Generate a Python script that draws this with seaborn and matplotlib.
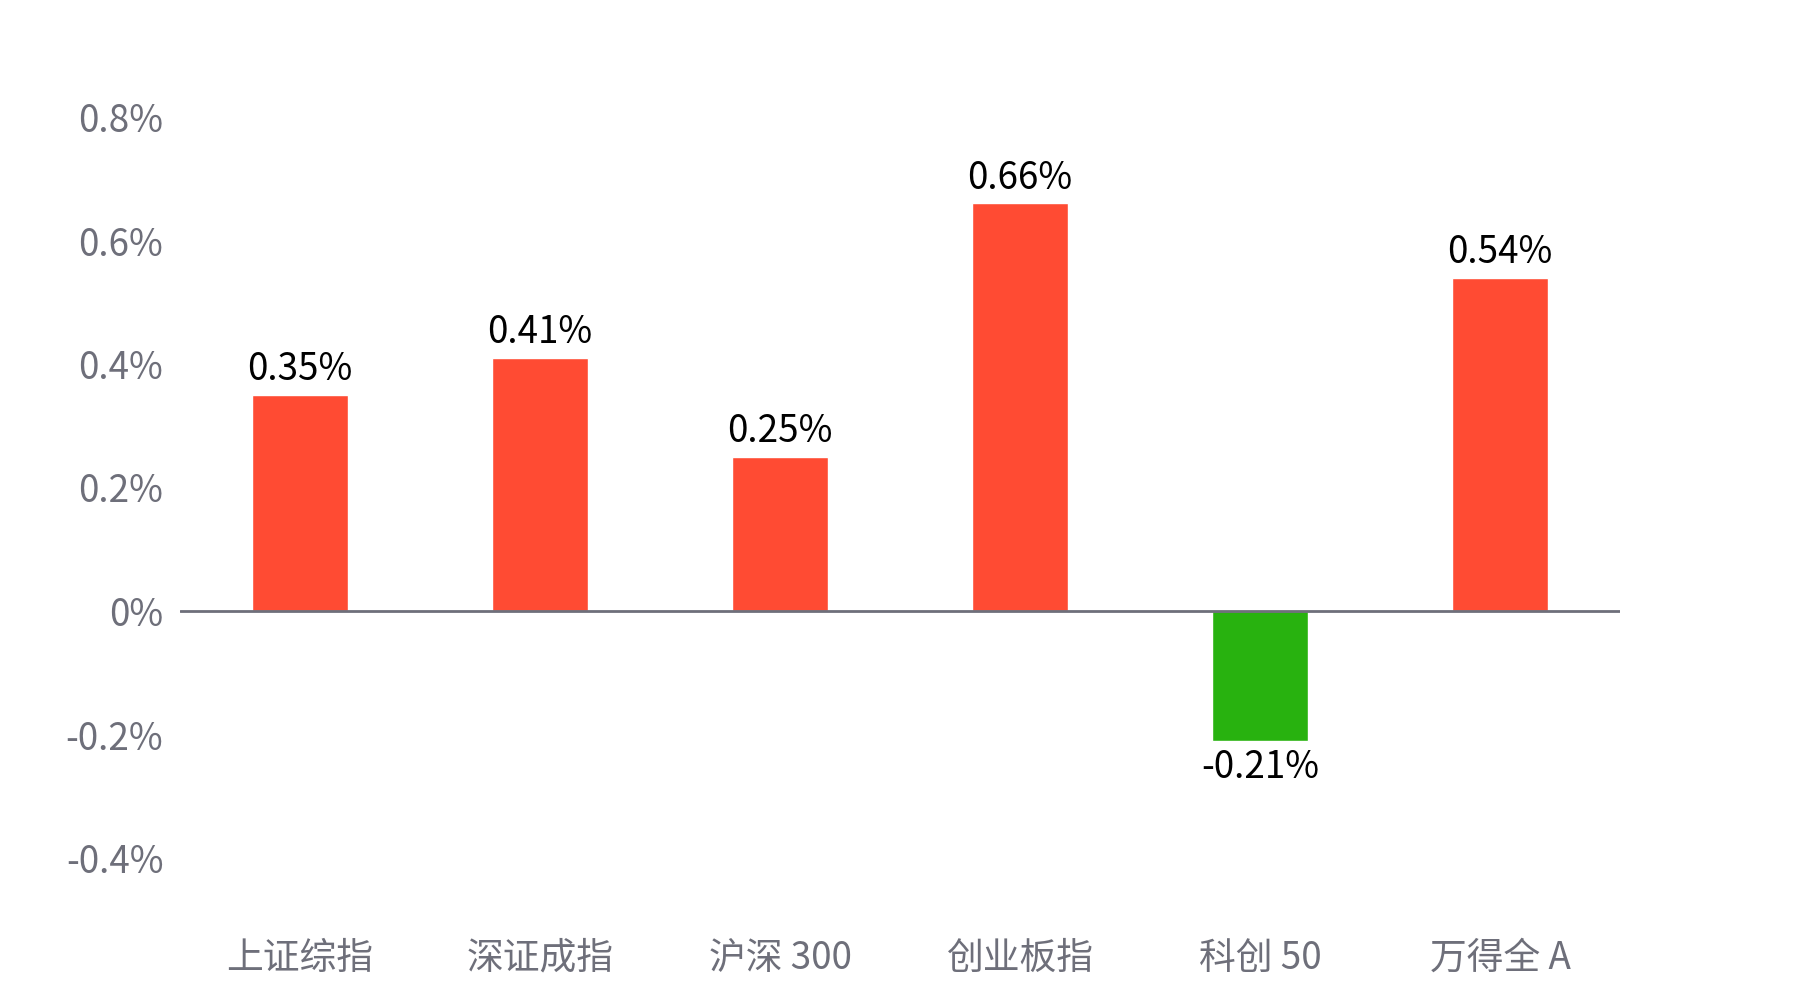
import matplotlib
matplotlib.use("Agg")
import matplotlib.pyplot as plt
import seaborn as sns
import pandas as pd

sns.set_theme(style="white")
plt.rcParams['font.family'] = ['Noto Sans CJK SC', 'DejaVu Sans']

# data
categories = ["上证综指", "深证成指", "沪深 300", "创业板指", "科创 50", "万得全 A"]
changes = [0.35, 0.41, 0.25, 0.66, -0.21, 0.54]
yticks = [-0.4, -0.2, 0, 0.2, 0.4, 0.6, 0.8]
ytick_labels = ["-0.4%", "-0.2%", "0%", "0.2%", "0.4%", "0.6%", "0.8%"]

RED = "#FF4B33"
GREEN = "#28B20F"
GRAY = "#6E6F7A"

df = pd.DataFrame({"name": categories, "chg": changes})
palette = {n: (RED if v >= 0 else GREEN) for n, v in zip(categories, changes)}

fig = plt.figure(figsize=(18, 10), dpi=100)
ax = fig.add_axes([0.1, 0.142, 0.8, 0.741])

sns.barplot(data=df, x="name", y="chg", hue="name", palette=palette,
            width=0.4, saturation=1, legend=False, ax=ax)

ax.set_xlim(-0.5, len(categories) - 0.5)
ax.set_ylim(-0.4, 0.8)
ax.set_yticks(yticks)
ax.set_yticklabels(ytick_labels)
ax.axhline(0, color=GRAY, lw=2, zorder=3)

for p, v in zip(ax.patches, changes):
    x = p.get_x() + p.get_width() / 2
    if v >= 0:
        ax.annotate(f"{v:.2f}%", (x, v), xytext=(0, 4), textcoords="offset points",
                    ha="center", va="bottom", fontsize=26.5, color="black")
    else:
        ax.annotate(f"{v:.2f}%", (x, v), xytext=(0, -5), textcoords="offset points",
                    ha="center", va="top", fontsize=26.5, color="black")

ax.set_xlabel("")
ax.set_ylabel("")
ax.tick_params(axis="y", length=0, pad=12, labelsize=26.5, labelcolor=GRAY)
ax.tick_params(axis="x", length=0, pad=58, labelsize=26.5, labelcolor=GRAY)
sns.despine(ax=ax, left=True, bottom=True)

fig.savefig("out.png", dpi=100, facecolor="white")
